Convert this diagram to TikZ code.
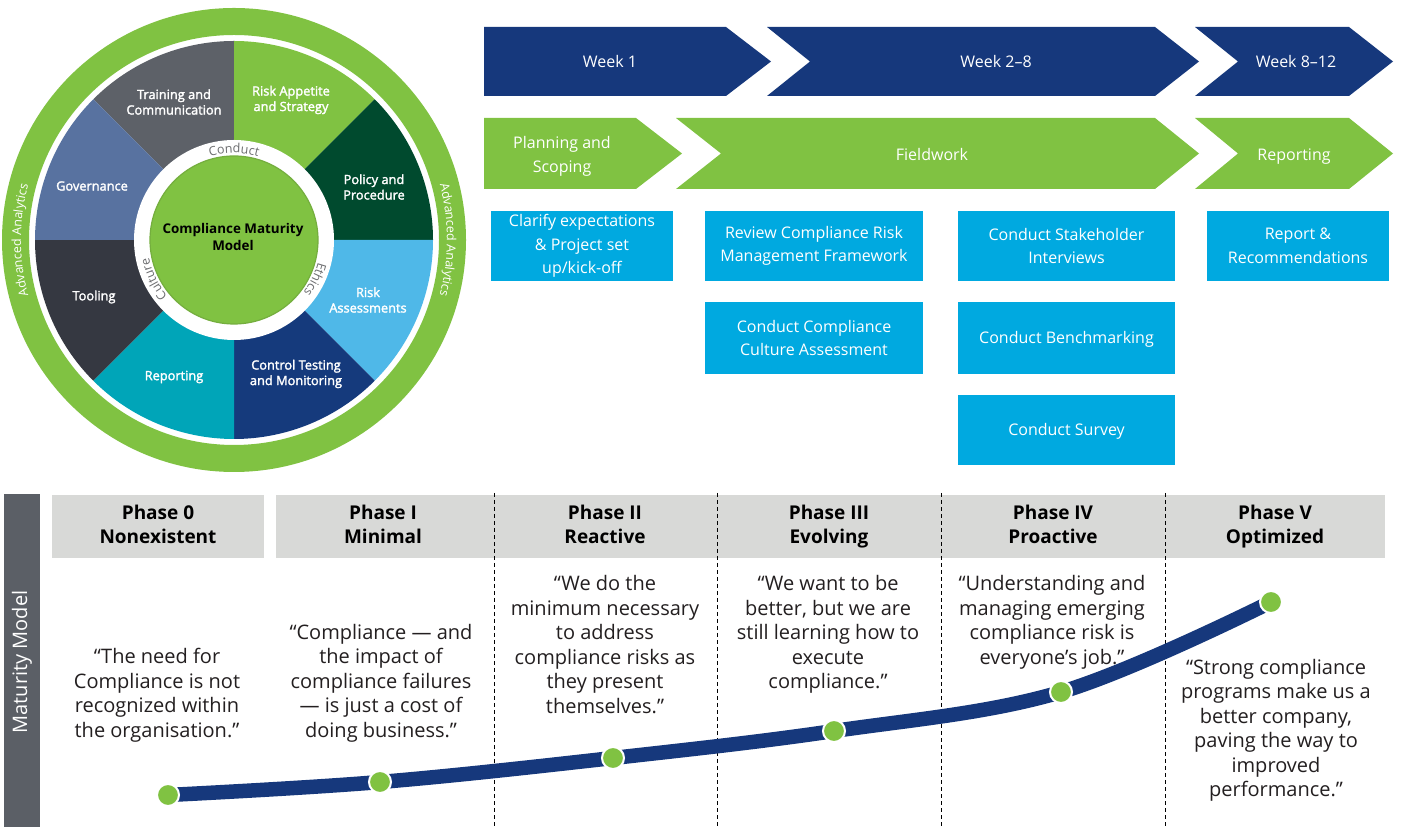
\documentclass[tikz,border=0pt]{standalone}
\usepackage{fontspec}
\setmainfont{Open Sans}
\newfontfamily\semibfont[FakeBold=2]{Open Sans}
\usetikzlibrary{decorations.text}

\definecolor{ringgreen}{HTML}{80C242}
\definecolor{innerborder}{HTML}{74AE3E}
\definecolor{trainC}{HTML}{5D6168}
\definecolor{policyC}{HTML}{004A2E}
\definecolor{riskC}{HTML}{4FB8E8}
\definecolor{controlC}{HTML}{153A7C}
\definecolor{reportC}{HTML}{00A5B8}
\definecolor{toolC}{HTML}{353841}
\definecolor{govC}{HTML}{5872A0}
\definecolor{ringtext}{HTML}{6D6E70}
\definecolor{navy}{HTML}{16387C}
\definecolor{boxcyan}{HTML}{00A9E0}
\definecolor{headgrey}{HTML}{D8D9D7}
\definecolor{sidebar}{HTML}{5B5F66}
\definecolor{quoteblack}{HTML}{231F20}

\newcommand\wringfont{\fontsize{12.5}{14}\selectfont}

\tikzset{
  seclabel/.style={text=white, align=center, font=\semibfont\fontsize{12.8}{15.5}\selectfont},
  chevtext/.style={text=white, align=center, font=\fontsize{16}{23.5}\selectfont},
  chevline/.style={chevtext, anchor=base},
  taskbox/.style={fill=boxcyan, text=white, align=center, inner sep=0pt,
    font=\fontsize{16}{23.5}\selectfont},
  oneline/.style={text height=11.5pt, text depth=0pt},
  phasehead/.style={align=center, text=black, text height=39pt, text depth=5pt,
    font=\bfseries\fontsize{19}{24}\selectfont},
  quotetext/.style={align=center, text=quoteblack, font=\fontsize{20}{24.5}\selectfont},
  stagedot/.style={circle, fill=ringgreen, draw=white, line width=2pt,
    minimum size=22pt, inner sep=0pt},
  phasedivider/.style={black, line width=0.9pt, dash pattern=on 4pt off 3pt},
  ringlabel/.style={decorate, decoration={text along path, text align=center,
    text color=#1}},
}

\begin{document}
\begin{tikzpicture}[x=1pt, y=1pt]
\useasboundingbox (0,0) rectangle (1402,827);
\fill[white] (0,0) rectangle (1402,827);

% ---------------- maturity wheel ----------------
\begin{scope}[shift={(234,587)}]
  \fill[ringgreen, even odd rule] (0,0) circle[radius=232] (0,0) circle[radius=205];
  \foreach \a/\c in {90/trainC, 45/ringgreen, 0/policyC, -45/riskC,
                     -90/controlC, -135/reportC, 180/toolC, 135/govC}
    \fill[\c] (0,0) -- (\a:199) arc[start angle=\a, delta angle=45, radius=199] -- cycle;
  \fill[white] (0,0) circle[radius=100];
  \filldraw[fill=ringgreen, draw=innerborder, line width=1.2pt] (0,0) circle[radius=84];

  % words set along the rings
  \path[ringlabel=ringtext, decoration={text={|\wringfont|Conduct}}]
    (135:87) arc[start angle=135, end angle=45, radius=87];
  \path[ringlabel=ringtext, decoration={text={|\wringfont|Ethics}}]
    (-4:87) arc[start angle=-4, end angle=-48, radius=87];
  \path[ringlabel=ringtext, decoration={text={|\wringfont|Culture}}]
    (229:87) arc[start angle=229, end angle=183, radius=87];
  \path[ringlabel=white, decoration={text={|\wringfont|Advanced Analytics}}]
    (215:213) arc[start angle=215, end angle=145, radius=213];
  \path[ringlabel=white, decoration={text={|\wringfont|Advanced Analytics}}]
    (35:213) arc[start angle=35, end angle=-35, radius=213];

  \node[seclabel] (train)   at (-60,138)  {Training and\\Communication};
  \node[seclabel] (appetite) at (57,140)  {Risk Appetite\\and Strategy};
  \node[seclabel] (policy)  at (140,53)   {Policy and\\Procedure};
  \node[seclabel] (riskass) at (134,-60)  {Risk\\Assessments};
  \node[seclabel] (control) at (62,-134)  {Control Testing\\and Monitoring};
  \node[seclabel] (reporting) at (-60,-137) {Reporting};
  \node[seclabel] (tooling) at (-140,-57) {Tooling};
  \node[seclabel] (governance) at (-142,54) {Governance};
  \node[align=center, text=black, font=\bfseries\fontsize{13.4}{16.5}\selectfont]
    (cmm) at (-1,3) {Compliance Maturity\\Model};
\end{scope}

% ---------------- timeline chevrons ----------------
\fill[navy] (484,800) -- (726,800) -- (771,765.5) -- (726,731) -- (484,731) -- cycle;
\fill[navy] (767,800) -- (1155,800) -- (1199,765.5) -- (1155,731) -- (767,731) -- (810,765.5) -- cycle;
\fill[navy] (1195,800) -- (1349,800) -- (1393,765.5) -- (1349,731) -- (1195,731) -- (1238,765.5) -- cycle;
\node[chevline] (wk1)   at (610,759.8)  {Week 1};
\node[chevline] (wk28)  at (996,759.8)  {Week 2–8};
\node[chevline] (wk812) at (1296,759.8) {Week 8–12};

\fill[ringgreen] (484,709) -- (636,709) -- (682,673.5) -- (636,638) -- (484,638) -- cycle;
\fill[ringgreen] (676,709) -- (1155,709) -- (1199,673.5) -- (1155,638) -- (676,638) -- (721,673.5) -- cycle;
\fill[ringgreen] (1195,709) -- (1349,709) -- (1393,673.5) -- (1349,638) -- (1195,638) -- (1238,673.5) -- cycle;
\node[chevtext] (plan)  at (562,670.5)  {Planning and\\Scoping};
\node[chevline] (field) at (932,666.3)  {Fieldwork};
\node[chevline] (rep)   at (1294,666.3) {Reporting};

% ---------------- activities ----------------
\node[taskbox, minimum width=182pt, minimum height=70pt] (clarify) at (582,581)
  {Clarify expectations\\\& Project set\\up/kick-off};
\node[taskbox, minimum width=218pt, minimum height=70pt] (review) at (814,581)
  {Review Compliance Risk\\Management Framework};
\node[taskbox, minimum width=217pt, minimum height=70pt] (stake) at (1066.5,581)
  {Conduct Stakeholder\\Interviews};
\node[taskbox, minimum width=182pt, minimum height=70pt] (recom) at (1298,581)
  {Report \&\\Recommendations};
\node[taskbox, minimum width=218pt, minimum height=72pt] (culture) at (814,489)
  {Conduct Compliance\\Culture Assessment};
\node[taskbox, oneline, minimum width=217pt, minimum height=72pt] (bench) at (1066.5,489)
  {Conduct Benchmarking};
\node[taskbox, oneline, minimum width=217pt, minimum height=70pt] (survey) at (1066.5,397)
  {Conduct Survey};

% ---------------- maturity phases ----------------
\fill[sidebar] (4,0) rectangle (40,333);
\node[rotate=90, text=white, font=\fontsize{20}{24}\selectfont] (mm) at (22,165) {Maturity Model};

\fill[headgrey] (52,332) rectangle (264,269);
\fill[headgrey] (276,332) rectangle (1385,269);
\foreach \x in {494,717,941,1165}
  \draw[phasedivider] (\x,334) -- (\x,0);

\node[phasehead] (p0) at (158,300)  {Phase 0\\Nonexistent};
\node[phasehead] (p1) at (383,300)  {Phase I\\Minimal};
\node[phasehead] (p2) at (605,300)  {Phase II\\Reactive};
\node[phasehead] (p3) at (829,300)  {Phase III\\Evolving};
\node[phasehead] (p4) at (1053,300) {Phase IV\\Proactive};
\node[phasehead] (p5) at (1275,300) {Phase V\\Optimized};

\node[quotetext] (q0) at (157,131.5) {“The need for\\Compliance is not\\recognized within\\the organisation.”};
\node[quotetext] (q1) at (381,144) {“Compliance — and\\the impact of\\compliance failures\\— is just a cost of\\doing business.”};
\node[quotetext] (q2) at (605,182.5) {“We do the\\minimum necessary\\to address\\compliance risks as\\they present\\themselves.”};
\node[quotetext] (q3) at (828,192.5) {“We want to be\\better, but we are\\still learning how to\\execute\\compliance.”};
\node[quotetext] (q4) at (1052,204.5) {“Understanding and\\managing emerging\\compliance risk is\\everyone’s job.”};
\node[quotetext] (q5) at (1276,96.5) {“Strong compliance\\programs make us a\\better company,\\paving the way to\\improved\\performance.”};

% maturity curve
\coordinate (c0) at (168,32);
\coordinate (c1) at (380,45);
\coordinate (c2) at (613,69);
\coordinate (c3) at (834,96);
\coordinate (c4) at (1061,135);
\coordinate (c5) at (1271,225);
\draw[navy, line width=14.5pt] plot[smooth, tension=0.6] coordinates {(c0) (c1) (c2) (c3) (c4) (c5)};
\foreach \i in {0,...,5}
  \node[stagedot] (dot\i) at (c\i) {};
\end{tikzpicture}
\end{document}
